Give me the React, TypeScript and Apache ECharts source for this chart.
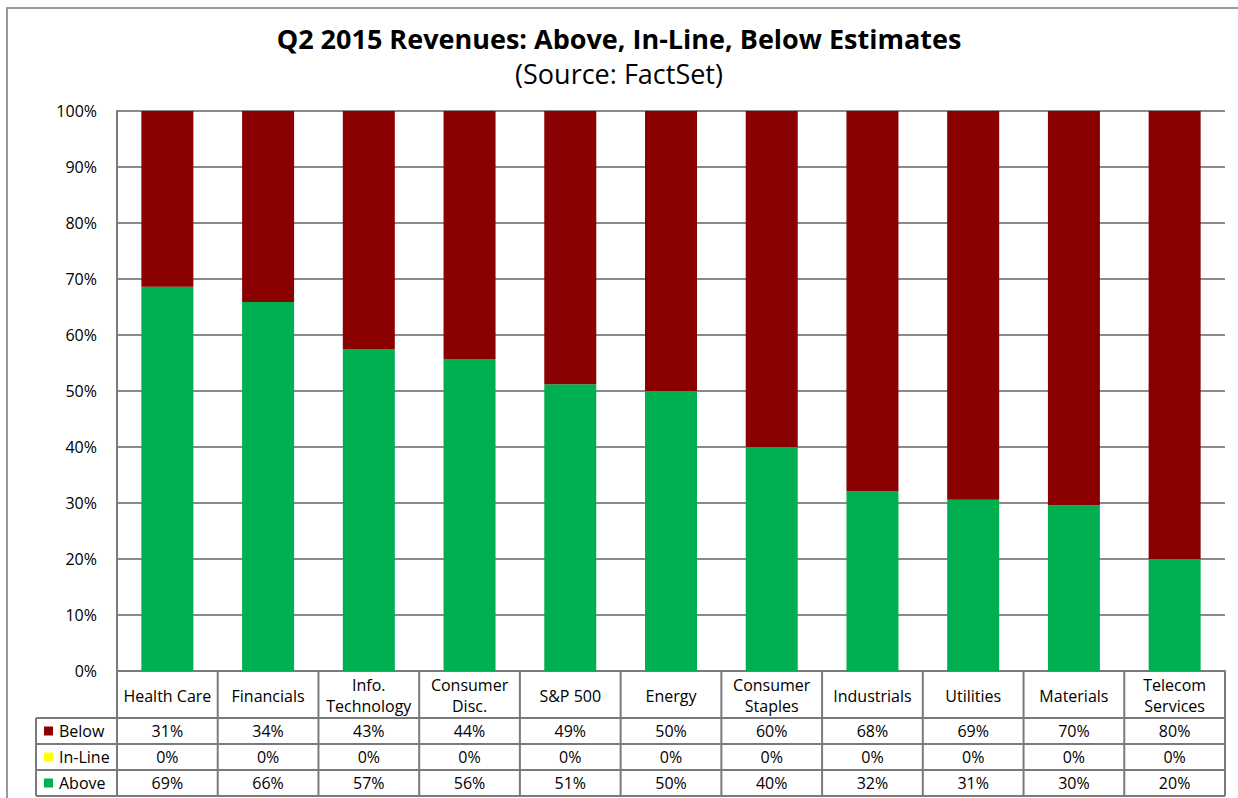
import React, { useEffect, useRef } from "react";
import * as echarts from "echarts";

const categories = [
  "Health Care",
  "Financials",
  "Info.\nTechnology",
  "Consumer\nDisc.",
  "S&P 500",
  "Energy",
  "Consumer\nStaples",
  "Industrials",
  "Utilities",
  "Materials",
  "Telecom\nServices",
];
const above = [68.6, 65.9, 57.4, 55.7, 51.2, 50.0, 40.0, 32.1, 30.6, 29.6, 20.0];
const inLine = [0, 0, 0, 0, 0, 0, 0, 0, 0, 0, 0];
const below = [31.4, 34.1, 42.6, 44.3, 48.8, 50.0, 60.0, 67.9, 69.4, 70.4, 80.0];
const yTicks = [0, 10, 20, 30, 40, 50, 60, 70, 80, 90, 100];

const COLORS = { below: "#8B0000", inLine: "#FFFF00", above: "#00B050" };
const FONT = "'Open Sans', 'DejaVu Sans', sans-serif";

export default function App() {
  const ref = useRef<HTMLDivElement>(null);
  useEffect(() => {
    if (!ref.current) return;
    document.body.style.margin = "0";
    const chart = echarts.init(ref.current, undefined, { renderer: "svg" });

    const GL = 117, GR = 1225, GT = 111, GB = 671;
    const cw = (GR - GL) / categories.length;
    const catBottom = 718;
    const rowH = 26;
    const tableLeft = 36;
    const lineColor = "#7a7a7a";

    const rows = [
      { name: "Below", color: COLORS.below, vals: below },
      { name: "In-Line", color: COLORS.inLine, vals: inLine },
      { name: "Above", color: COLORS.above, vals: above },
    ];

    const graphics: any[] = [];
    graphics.push({
      type: "rect",
      shape: { x: 7, y: 8, width: 1260, height: 820 },
      style: { fill: "none", stroke: "#9a9a9a", lineWidth: 2 },
      silent: true,
      z: -10,
    });
    for (let i = 0; i <= categories.length; i++) {
      const x = GL + i * cw;
      graphics.push({
        type: "line",
        shape: { x1: x, y1: GB, x2: x, y2: catBottom + rowH * 3 },
        style: { stroke: lineColor, lineWidth: 2 },
        silent: true,
      });
    }
    graphics.push({
      type: "line",
      shape: { x1: GL, y1: GB, x2: GR, y2: GB },
      style: { stroke: lineColor, lineWidth: 2 },
      silent: true,
    });
    for (let r = 0; r <= 3; r++) {
      const y = catBottom + r * rowH;
      graphics.push({
        type: "line",
        shape: { x1: tableLeft, y1: y, x2: GR, y2: y },
        style: { stroke: lineColor, lineWidth: 2 },
        silent: true,
      });
    }
    graphics.push({
      type: "line",
      shape: { x1: tableLeft, y1: catBottom, x2: tableLeft, y2: catBottom + rowH * 3 },
      style: { stroke: lineColor, lineWidth: 2 },
      silent: true,
    });
    categories.forEach((c, i) => {
      graphics.push({
        type: "text",
        x: GL + (i + 0.5) * cw,
        y: (GB + catBottom) / 2 + 1,
        style: {
          text: c,
          font: `16px ${FONT}`,
          fill: "#000",
          align: "center",
          verticalAlign: "middle",
          lineHeight: 21,
        },
        silent: true,
      });
    });
    rows.forEach((row, r) => {
      const yc = catBottom + r * rowH + rowH / 2;
      graphics.push({
        type: "rect",
        shape: { x: 44, y: yc - 4.5, width: 9, height: 9 },
        style: { fill: row.color },
        silent: true,
      });
      graphics.push({
        type: "text",
        x: 59,
        y: yc,
        style: {
          text: row.name,
          font: `16px ${FONT}`,
          fill: "#000",
          align: "left",
          verticalAlign: "middle",
        },
        silent: true,
      });
      row.vals.forEach((v, i) => {
        graphics.push({
          type: "text",
          x: GL + (i + 0.5) * cw,
          y: yc,
          style: {
            text: `${Math.round(v)}%`,
            font: `16px ${FONT}`,
            fill: "#000",
            align: "center",
            verticalAlign: "middle",
          },
          silent: true,
        });
      });
    });

    chart.setOption({
      animation: false,
      backgroundColor: "#fff",
      title: [
        {
          text: "Q2 2015 Revenues: Above, In-Line, Below Estimates",
          left: "center",
          top: 20,
          textStyle: { fontFamily: FONT, fontSize: 27, fontWeight: "bold", color: "#000" },
        },
        {
          text: "(Source: FactSet)",
          left: "center",
          top: 55,
          textStyle: { fontFamily: FONT, fontSize: 27, fontWeight: "normal", color: "#000" },
        },
      ],
      grid: { left: GL, right: 1238 - GR, top: GT, bottom: 798 - GB, containLabel: false },
      xAxis: {
        type: "category",
        data: categories,
        axisLabel: { show: false },
        axisTick: { show: false },
        axisLine: { show: true, lineStyle: { color: lineColor, width: 2 } },
      },
      yAxis: {
        type: "value",
        min: 0,
        max: 100,
        interval: 10,
        axisLabel: {
          formatter: (v: number) => (yTicks.includes(v) ? `${v}%` : ""),
          fontFamily: FONT,
          fontSize: 16,
          color: "#000",
          margin: 20,
        },
        axisLine: { show: true, lineStyle: { color: lineColor, width: 2 } },
        axisTick: { show: false },
        splitLine: { show: true, lineStyle: { color: "#8a8a8a", width: 2 } },
      },
      series: [
        {
          name: "Above",
          type: "bar",
          stack: "total",
          data: above,
          barWidth: 52,
          itemStyle: { color: COLORS.above },
        },
        {
          name: "In-Line",
          type: "bar",
          stack: "total",
          data: inLine,
          barWidth: 52,
          itemStyle: { color: COLORS.inLine },
        },
        {
          name: "Below",
          type: "bar",
          stack: "total",
          data: below,
          barWidth: 52,
          itemStyle: { color: COLORS.below },
        },
      ],
      graphic: graphics,
    });
    return () => chart.dispose();
  }, []);
  return (
    <div
      ref={ref}
      style={{ position: "absolute", left: 0, top: 0, width: 1238, height: 798 }}
    />
  );
}
